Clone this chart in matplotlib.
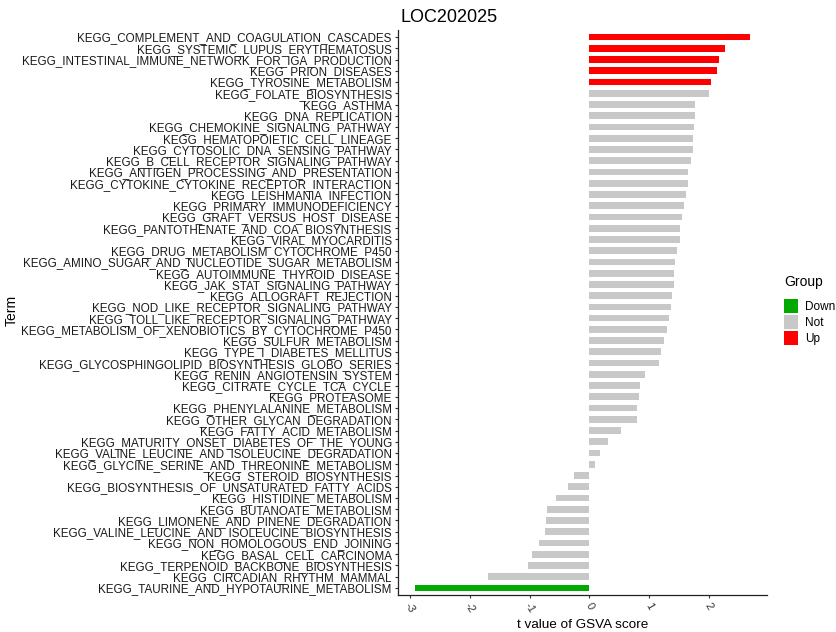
import matplotlib
matplotlib.use("Agg")
import matplotlib.pyplot as plt
from matplotlib.patches import Patch
import numpy as np

plt.rcParams['font.family'] = ['Liberation Sans', 'DejaVu Sans']

terms = [
    "KEGG_COMPLEMENT_AND_COAGULATION_CASCADES",
    "KEGG_SYSTEMIC_LUPUS_ERYTHEMATOSUS",
    "KEGG_INTESTINAL_IMMUNE_NETWORK_FOR_IGA_PRODUCTION",
    "KEGG_PRION_DISEASES",
    "KEGG_TYROSINE_METABOLISM",
    "KEGG_FOLATE_BIOSYNTHESIS",
    "KEGG_ASTHMA",
    "KEGG_DNA_REPLICATION",
    "KEGG_CHEMOKINE_SIGNALING_PATHWAY",
    "KEGG_HEMATOPOIETIC_CELL_LINEAGE",
    "KEGG_CYTOSOLIC_DNA_SENSING_PATHWAY",
    "KEGG_B_CELL_RECEPTOR_SIGNALING_PATHWAY",
    "KEGG_ANTIGEN_PROCESSING_AND_PRESENTATION",
    "KEGG_CYTOKINE_CYTOKINE_RECEPTOR_INTERACTION",
    "KEGG_LEISHMANIA_INFECTION",
    "KEGG_PRIMARY_IMMUNODEFICIENCY",
    "KEGG_GRAFT_VERSUS_HOST_DISEASE",
    "KEGG_PANTOTHENATE_AND_COA_BIOSYNTHESIS",
    "KEGG_VIRAL_MYOCARDITIS",
    "KEGG_DRUG_METABOLISM_CYTOCHROME_P450",
    "KEGG_AMINO_SUGAR_AND_NUCLEOTIDE_SUGAR_METABOLISM",
    "KEGG_AUTOIMMUNE_THYROID_DISEASE",
    "KEGG_JAK_STAT_SIGNALING_PATHWAY",
    "KEGG_ALLOGRAFT_REJECTION",
    "KEGG_NOD_LIKE_RECEPTOR_SIGNALING_PATHWAY",
    "KEGG_TOLL_LIKE_RECEPTOR_SIGNALING_PATHWAY",
    "KEGG_METABOLISM_OF_XENOBIOTICS_BY_CYTOCHROME_P450",
    "KEGG_SULFUR_METABOLISM",
    "KEGG_TYPE_I_DIABETES_MELLITUS",
    "KEGG_GLYCOSPHINGOLIPID_BIOSYNTHESIS_GLOBO_SERIES",
    "KEGG_RENIN_ANGIOTENSIN_SYSTEM",
    "KEGG_CITRATE_CYCLE_TCA_CYCLE",
    "KEGG_PROTEASOME",
    "KEGG_PHENYLALANINE_METABOLISM",
    "KEGG_OTHER_GLYCAN_DEGRADATION",
    "KEGG_FATTY_ACID_METABOLISM",
    "KEGG_MATURITY_ONSET_DIABETES_OF_THE_YOUNG",
    "KEGG_VALINE_LEUCINE_AND_ISOLEUCINE_DEGRADATION",
    "KEGG_GLYCINE_SERINE_AND_THREONINE_METABOLISM",
    "KEGG_STEROID_BIOSYNTHESIS",
    "KEGG_BIOSYNTHESIS_OF_UNSATURATED_FATTY_ACIDS",
    "KEGG_HISTIDINE_METABOLISM",
    "KEGG_BUTANOATE_METABOLISM",
    "KEGG_LIMONENE_AND_PINENE_DEGRADATION",
    "KEGG_VALINE_LEUCINE_AND_ISOLEUCINE_BIOSYNTHESIS",
    "KEGG_NON_HOMOLOGOUS_END_JOINING",
    "KEGG_BASAL_CELL_CARCINOMA",
    "KEGG_TERPENOID_BACKBONE_BIOSYNTHESIS",
    "KEGG_CIRCADIAN_RHYTHM_MAMMAL",
    "KEGG_TAURINE_AND_HYPOTAURINE_METABOLISM",
]

t_values = [
    2.68, 2.27, 2.17, 2.13, 2.04, 2.00, 1.77, 1.76, 1.75, 1.74,
    1.73, 1.70, 1.65, 1.65, 1.62, 1.59, 1.55, 1.52, 1.51, 1.47,
    1.43, 1.42, 1.41, 1.38, 1.36, 1.33, 1.30, 1.24, 1.20, 1.16,
    0.93, 0.85, 0.83, 0.79, 0.79, 0.53, 0.31, 0.17, 0.09, -0.26,
    -0.36, -0.55, -0.71, -0.72, -0.74, -0.85, -0.96, -1.02, -1.70, -2.91,
]

groups = ["Up"] * 5 + ["Not"] * 44 + ["Down"]

group_levels = ["Down", "Not", "Up"]
group_colors = {"Down": "#00AA00", "Not": "#C8C8C8", "Up": "#FF0000"}

x_ticks = [-3, -2, -1, 0, 1, 2]

fig = plt.figure(figsize=(8.36, 6.32), dpi=100)
ax = fig.add_axes([398 / 836, 1 - 594.7 / 632, (767 - 398) / 836, (594.7 - 30.3) / 632])

n = len(terms)
ypos = np.arange(n)[::-1]
ax.barh(ypos, t_values, height=0.6,
        color=[group_colors[g] for g in groups], edgecolor="none")

ax.set_ylim(-0.6, n - 1 + 0.6)
ax.set_xlim(-3.2, 2.97)
ax.set_yticks(ypos)
ax.set_yticklabels(terms, fontsize=8.4, color="#1a1a1a")
ax.set_xticks(x_ticks)
ax.set_xticklabels([str(v) for v in x_ticks], fontsize=8, color="#333333",
                   rotation=-60, ha="center", va="top")

for side in ("top", "right"):
    ax.spines[side].set_visible(False)
for side in ("left", "bottom"):
    ax.spines[side].set_linewidth(0.9)
    ax.spines[side].set_color("#222222")
ax.tick_params(axis="both", length=2.5, width=0.8, color="#333333", pad=2)

ax.set_xlabel("t value of GSVA score", fontsize=9.7, labelpad=3)
fig.text(12 / 836, 1 - 310 / 632, "Term", rotation=90, fontsize=10,
         ha="center", va="center")

fig.text(400 / 836, 1 - 17 / 632, "LOC202025", fontsize=13,
         ha="left", va="center")

handles = [Patch(facecolor=group_colors[g], edgecolor="none", label=g)
           for g in group_levels]
leg = fig.legend(handles=handles, title="Group", loc="upper left",
                 bbox_to_anchor=(784 / 836, 1 - 275 / 632), frameon=False,
                 fontsize=8.5, title_fontsize=10, handlelength=1.2,
                 handleheight=1.5, handletextpad=0.6, labelspacing=0.15,
                 borderaxespad=0, borderpad=0)
leg._legend_box.align = "left"
leg._legend_box.sep = 7

fig.savefig("out.png", dpi=100)
